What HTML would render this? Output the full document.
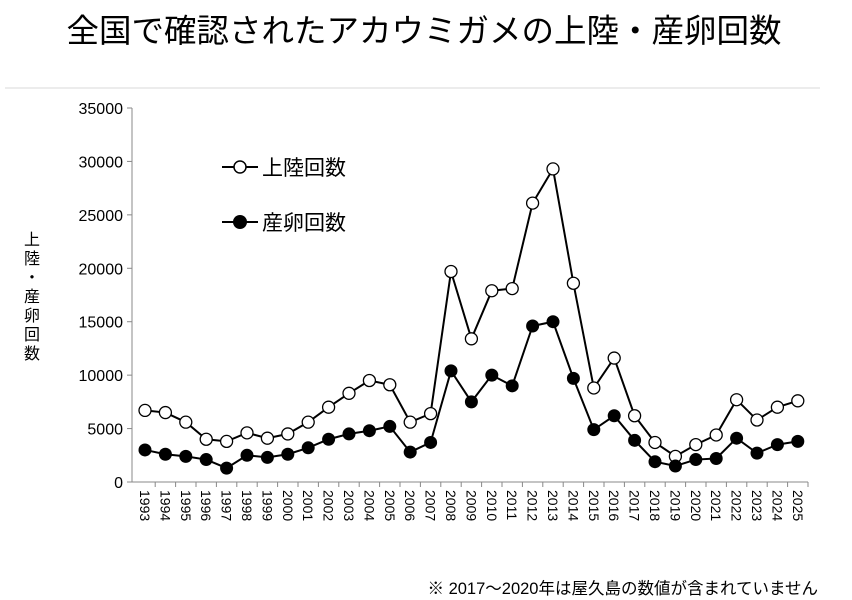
<!DOCTYPE html>
<html><head><meta charset="utf-8"><style>
body{margin:0;background:#fff;width:852px;height:600px;overflow:hidden}
svg{display:block}
text{font-family:"Liberation Sans","Noto Sans CJK JP",sans-serif;fill:#000}
</style></head><body>
<svg id="s" width="852" height="600" xmlns="http://www.w3.org/2000/svg">
<text x="424" y="42" font-size="32.5" text-anchor="middle">全国で確認されたアカウミガメの上陸・産卵回数</text>
<line x1="5" y1="88" x2="820" y2="88" stroke="#d9d9d9" stroke-width="1"/>
<g id="g"></g>
<text font-size="16" x="32" y="245" text-anchor="middle">上</text>
<text font-size="16" x="32" y="264" text-anchor="middle">陸</text>
<text font-size="16" x="32" y="283" text-anchor="middle">・</text>
<text font-size="16" x="32" y="302" text-anchor="middle">産</text>
<text font-size="16" x="32" y="321" text-anchor="middle">卵</text>
<text font-size="16" x="32" y="340" text-anchor="middle">回</text>
<text font-size="16" x="32" y="359" text-anchor="middle">数</text>
<line x1="222" y1="167" x2="258" y2="167" stroke="#000" stroke-width="2"/>
<circle cx="240" cy="167" r="6" fill="#fff" stroke="#000" stroke-width="1.5"/>
<text x="262" y="175" font-size="21">上陸回数</text>
<line x1="222" y1="222" x2="258" y2="222" stroke="#000" stroke-width="2"/>
<circle cx="240" cy="222" r="7" fill="#000"/>
<text x="262" y="230" font-size="21">産卵回数</text>
<text x="818" y="594" font-size="16.5" text-anchor="end">※ 2017～2020年は屋久島の数値が含まれていません</text>
</svg>
<script>
var g=document.getElementById('g'),h='';
var X0=132,X1=808,Y0=482,Y1=108;
function y(v){return Y0-(v/35000)*(Y0-Y1);}
function x(i){return 145+i*20.4;}
h+='<line x1="'+X0+'" y1="'+Y1+'" x2="'+X0+'" y2="'+Y0+'" stroke="#888"/>';
h+='<line x1="'+X0+'" y1="'+Y0+'" x2="'+X1+'" y2="'+Y0+'" stroke="#888"/>';
for(var v=0;v<=35000;v+=5000){h+='<line x1="127" x2="132" y1="'+y(v)+'" y2="'+y(v)+'" stroke="#888"/><text x="123" y="'+(y(v)+6)+'" font-size="16" text-anchor="end">'+v+'</text>';}
for(var i=0;i<33;i++){var xx=x(i);h+='<line x1="'+(xx+10.2)+'" x2="'+(xx+10.2)+'" y1="482" y2="487" stroke="#888"/>';
h+='<text transform="translate('+(xx-5)+',490) rotate(90)" font-size="14">'+(1993+i)+'</text>';}
var a=[6700,6500,5600,4000,3800,4600,4100,4500,5600,7000,8300,9500,9100,5600,6400,19700,13400,17900,18100,26100,29300,18600,8800,11600,6200,3700,2400,3500,4400,7700,5800,7000,7600];
var b=[3000,2600,2400,2100,1300,2500,2300,2600,3200,4000,4500,4800,5200,2800,3700,10400,7500,10000,9000,14600,15000,9700,4900,6200,3900,1900,1500,2100,2200,4100,2700,3500,3800];
function line(d){return '<polyline fill="none" stroke="#000" stroke-width="2" points="'+d.map(function(v,i){return x(i)+','+y(v)}).join(' ')+'"/>';}
h+=line(a)+line(b);
a.forEach(function(v,i){h+='<circle cx="'+x(i)+'" cy="'+y(v)+'" r="6" fill="#fff" stroke="#000" stroke-width="1.3"/>';});
b.forEach(function(v,i){h+='<circle cx="'+x(i)+'" cy="'+y(v)+'" r="6.5" fill="#000"/>';});
g.innerHTML=h;
</script>
</body></html>
